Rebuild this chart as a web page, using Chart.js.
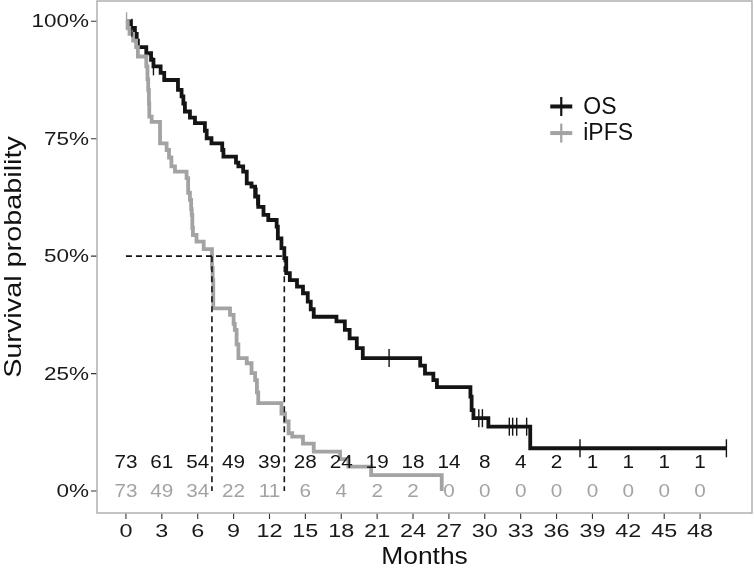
<!DOCTYPE html>
<html><head><meta charset="utf-8">
<script src="https://cdn.jsdelivr.net/npm/chart.js@4/dist/chart.umd.min.js"></script>
<style>html,body{margin:0;padding:0;background:#fff}canvas{display:block}</style>
</head><body>
<canvas id="c" width="754" height="572"></canvas>
<script>
// ---- data ----
const xTicks = [0,3,6,9,12,15,18,21,24,27,30,33,36,39,42,45,48];
const yTicks = [0,25,50,75,100];
const xTitle = 'Months';
const yTitle = 'Survival probability';

const osTimes = [0,0.4,0.75,0.9,1.0,1.7,2.1,2.3,2.9,3.2,4.35,4.65,4.8,4.93,5.35,5.77,6.6,6.75,7.15,8.05,8.15,9.2,9.4,9.8,10.1,10.5,10.8,11.06,11.5,11.9,12.6,12.7,13.0,13.24,13.4,13.7,14.3,14.8,15.2,15.45,15.7,17.6,18.3,18.7,19.3,19.8,24.6,25.0,25.7,26.0,28.8,28.9,29.05,30.3,33.8,50.2];
const osSurv  = [100,98.6,97.3,95.9,94.5,93.2,91.8,90.4,89.0,87.5,85.4,84.0,82.5,80.8,79.5,78.3,76.7,75.1,74.0,72.6,71.2,69.9,69.1,68.0,65.5,64.8,62.7,60.5,58.8,57.7,56.3,53.8,51.7,49.6,46.4,44.9,43.5,42.1,40.3,38.7,37.1,36.1,34.3,32.5,30.4,28.3,26.7,25.0,23.6,22.1,20.1,17.2,15.5,13.7,9.1,9.1];
const osCensor = [0.5,2.3,10.95,22.0,29.5,29.8,32.05,32.33,32.67,33.5,37.96,50.2];

const ipfsTimes = [0,0.15,0.3,0.6,0.85,1.0,1.7,1.8,1.86,1.92,1.95,2.15,2.85,3.4,3.6,3.8,4.1,5.07,5.2,5.35,5.45,5.5,5.55,5.6,5.9,6.5,7.19,7.25,7.3,8.7,9.0,9.1,9.25,9.4,10.1,10.5,10.8,10.95,11.06,13.0,13.3,13.6,13.9,14.8,15.7,17.9,18.6,20.5,26.4];
const ipfsSurv  = [100,98.6,97.3,95.9,94.5,92.5,90.4,87.7,85.4,82.5,79.7,78.6,74.0,72.6,71.0,69.1,68.0,66.6,63.5,62.0,60.0,58.8,56.0,54.5,53.1,51.5,47.5,44.9,38.9,37.5,35.6,34.3,31.2,28.3,27.2,25.1,23.6,21.0,18.7,16.5,14.8,12.3,11.6,10.1,8.4,6.8,5.2,3.4,0];
const ipfsCensor = [0.05];

const riskTimes = [0,3,6,9,12,15,18,21,24,27,30,33,36,39,42,45,48];
const osRisk   = [73,61,54,49,39,28,24,19,18,14,8,4,2,1,1,1,1];
const ipfsRisk = [73,49,34,22,11,6,4,2,2,0,0,0,0,0,0,0,0];

const medianOS = 13.24;
const medianIPFS = 7.19;

const seriesNames = ['OS','iPFS'];

// ---- styling ----
const BLACK = '#141414';
const GRAY = '#a3a3a3';
const FONT = '"Liberation Sans", Arial, Helvetica, sans-serif';

function survAt(times, surv, t){
  let v = surv[0];
  for (let i=0;i<times.length;i++){ if (times[i] <= t) v = surv[i]; }
  return v;
}
const toPts = (ts, ss) => ts.map((t,i)=>({x:t, y:ss[i]}));

function txt(ctx, s, x, y, o){
  ctx.save();
  ctx.translate(x, y);
  if (o.rot) ctx.rotate(-Math.PI/2);
  ctx.scale(o.sx || 1, 1);
  ctx.font = o.size + 'px ' + FONT;
  ctx.fillStyle = o.color || '#111';
  ctx.textAlign = o.align || 'center';
  ctx.textBaseline = 'middle';
  ctx.fillText(s, 0, 0);
  ctx.restore();
}

const overlay = {
  id: 'overlay',
  afterDatasetsDraw(chart){
    const {ctx, chartArea:a, scales:{x, y}} = chart;
    // numbers at risk
    riskTimes.forEach((t,i)=>{
      const px = x.getPixelForValue(t);
      txt(ctx, String(osRisk[i]), px, y.getPixelForValue(5.96), {size:18, sx:1.15, color:BLACK});
      txt(ctx, String(ipfsRisk[i]), px, y.getPixelForValue(-0.28), {size:18, sx:1.15, color:GRAY});
    });
    // legend
    const lx = a.left + 0.692*a.width;
    const ly = a.top + 0.206*a.height;
    const gap = 26.6;
    [[BLACK, seriesNames[0]],[GRAY, seriesNames[1]]].forEach((d,i)=>{
      const cy = ly + i*gap;
      ctx.save();
      ctx.strokeStyle = d[0];
      ctx.lineWidth = 4;
      ctx.beginPath(); ctx.moveTo(lx, cy); ctx.lineTo(lx+22, cy); ctx.stroke();
      ctx.lineWidth = 2.2;
      ctx.beginPath(); ctx.moveTo(lx+11, cy-9.5); ctx.lineTo(lx+11, cy+9.5); ctx.stroke();
      ctx.restore();
      txt(ctx, d[1], lx+33, cy+1, {size:23, align:'left', color:'#111'});
    });
  },
  afterDraw(chart){
    const {ctx, chartArea:a, scales:{x, y}} = chart;
    ctx.save();
    // panel border
    ctx.strokeStyle = '#ababab';
    ctx.lineWidth = 1.4;
    ctx.strokeRect(a.left, a.top, a.right-a.left, a.bottom-a.top);
    // tick marks
    ctx.strokeStyle = '#333';
    ctx.lineWidth = 1.1;
    ctx.beginPath();
    xTicks.forEach(v=>{ const px = x.getPixelForValue(v); ctx.moveTo(px, a.bottom+0.7); ctx.lineTo(px, a.bottom+6); });
    yTicks.forEach(v=>{ const py = y.getPixelForValue(v); ctx.moveTo(a.left-0.7, py); ctx.lineTo(a.left-6, py); });
    ctx.stroke();
    ctx.restore();
    // tick labels
    xTicks.forEach(v=>txt(ctx, String(v), x.getPixelForValue(v), a.bottom+19, {size:18, sx:1.3, color:'#1a1a1a'}));
    yTicks.forEach(v=>txt(ctx, v+'%', a.left-8, y.getPixelForValue(v)+1, {size:18, sx:1.25, align:'right', color:'#1a1a1a'}));
    // axis titles
    txt(ctx, xTitle, (a.left+a.right)/2, a.bottom+44, {size:24, sx:1.1, color:'#111'});
    txt(ctx, yTitle, 14, (a.top+a.bottom)/2, {size:24, sx:1.2, rot:true, color:'#111'});
  }
};

new Chart(document.getElementById('c'), {
  type: 'line',
  data: {
    datasets: [
      {label:'medH', data:[{x:0,y:50},{x:medianOS,y:50}], borderColor:BLACK, borderWidth:1.6, borderDash:[6,4], pointRadius:0, order:0},
      {label:'medV1', data:[{x:medianIPFS,y:50},{x:medianIPFS,y:0}], borderColor:BLACK, borderWidth:1.6, borderDash:[6,4], pointRadius:0, order:0},
      {label:'medV2', data:[{x:medianOS,y:50},{x:medianOS,y:0}], borderColor:BLACK, borderWidth:1.6, borderDash:[6,4], pointRadius:0, order:0},
      {label:'iPFS censor', type:'scatter', data: ipfsCensor.map(t=>({x:t, y:survAt(ipfsTimes, ipfsSurv, t)})), pointStyle:'line', rotation:90, pointRadius:9, borderColor:GRAY, borderWidth:1.4, order:1},
      {label:'OS censor', type:'scatter', data: osCensor.map(t=>({x:t, y:survAt(osTimes, osSurv, t)})), pointStyle:'line', rotation:90, pointRadius:9, borderColor:BLACK, borderWidth:1.4, order:1},
      {label:'iPFS', data: toPts(ipfsTimes, ipfsSurv), stepped:true, borderColor:GRAY, borderWidth:3.8, pointRadius:0, order:2},
      {label:'OS', data: toPts(osTimes, osSurv), stepped:true, borderColor:BLACK, borderWidth:3.8, pointRadius:0, order:3}
    ]
  },
  options: {
    responsive:false,
    animation:false,
    layout:{autoPadding:false, padding:{top:1,right:2,left:0,bottom:0}},
    plugins:{legend:{display:false}, tooltip:{enabled:false}},
    scales:{
      x:{
        type:'linear', min:-2.42, max:52.34,
        afterBuildTicks: s => { s.ticks = xTicks.map(v=>({value:v})); },
        afterFit: s => { s.height = 59; },
        grid:{display:false},
        border:{display:false},
        ticks:{display:false},
        title:{display:false}
      },
      y:{
        type:'linear', min:-4.68, max:104.32,
        afterBuildTicks: s => { s.ticks = yTicks.map(v=>({value:v})); },
        afterFit: s => { s.width = 97; },
        grid:{display:false},
        border:{display:false},
        ticks:{display:false},
        title:{display:false}
      }
    }
  },
  plugins:[overlay]
});
</script>
</body></html>
